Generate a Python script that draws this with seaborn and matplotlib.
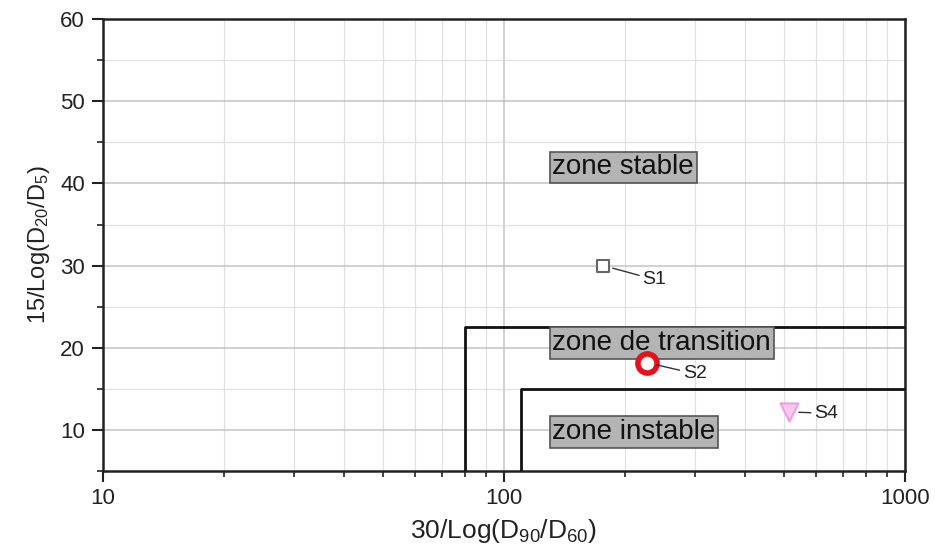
import matplotlib
matplotlib.use("Agg")
import matplotlib.pyplot as plt
import seaborn as sns
import pandas as pd
from matplotlib.ticker import LogLocator, MultipleLocator, NullFormatter, FixedLocator

# ---- data ----
samples = ["S1", "S2", "S4"]
x_vals = [177, 227, 514]          # 30/Log(D90/D60)
y_vals = [30.0, 18.2, 12.2]       # 15/Log(D20/D5)

transition_x = [80, 80, 1000]
transition_y = [5, 22.5, 22.5]
instable_x = [110, 110, 1000]
instable_y = [5, 15, 15]

zone_labels = ["zone stable", "zone de transition", "zone instable"]
zone_x = [132, 132, 132]
zone_y = [41.95, 20.6, 9.75]

y_ticks = [10, 20, 30, 40, 50, 60]
x_ticks = [10, 100, 1000]

sns.set_theme(style="white")
plt.rcParams["font.family"] = ["Liberation Sans", "DejaVu Sans"]
plt.rcParams["mathtext.default"] = "regular"

fig = plt.figure(figsize=(9.35, 5.51), dpi=100)
ax = fig.add_axes([0.110, 0.145, 0.858, 0.8205])

ax.set_xscale("log")
ax.set_xlim(10, 1000)
ax.set_ylim(5, 60)

# grid
ax.xaxis.set_major_locator(FixedLocator(x_ticks))
ax.xaxis.set_minor_locator(LogLocator(base=10, subs=range(2, 10)))
ax.xaxis.set_minor_formatter(NullFormatter())
ax.set_xticklabels([str(t) for t in x_ticks])
ax.yaxis.set_major_locator(FixedLocator(y_ticks))
ax.yaxis.set_minor_locator(MultipleLocator(5))
ax.grid(True, which="major", color="#c4c4c4", linewidth=1.1)
ax.grid(True, which="minor", color="#e0e0e0", linewidth=0.9)
ax.set_axisbelow(True)

# zone boundaries
bdf1 = pd.DataFrame({"x": transition_x, "y": transition_y})
bdf2 = pd.DataFrame({"x": instable_x, "y": instable_y})
sns.lineplot(data=bdf1, x="x", y="y", sort=False, estimator=None, color="#111111",
             linewidth=2.0, ax=ax, zorder=3)
sns.lineplot(data=bdf2, x="x", y="y", sort=False, estimator=None, color="#111111",
             linewidth=2.0, ax=ax, zorder=3)

# points
df = pd.DataFrame({"x": x_vals, "y": y_vals, "sample": samples})
styles = {
    "S1": dict(marker="s", s=70, facecolor="white", edgecolor="#666666", linewidth=1.5),
    "S2": dict(marker="o", s=190, facecolor="white", edgecolor="#e8101a", linewidth=4.0),
    "S4": dict(marker="v", s=170, facecolor="#f6c8f0", edgecolor="#ee9fe4", linewidth=1.5),
}
for name in samples:
    sub = df[df["sample"] == name]
    sns.scatterplot(data=sub, x="x", y="y", ax=ax, zorder=5, legend=False, **styles[name])

# leader labels
offsets = {"S1": (28, -10), "S2": (26, -8), "S4": (18, -1)}
for name, xv, yv in zip(samples, x_vals, y_vals):
    ax.annotate(name, xy=(xv, yv), xytext=offsets[name], textcoords="offset points",
                fontsize=14, color="#222222", ha="left", va="center",
                arrowprops=dict(arrowstyle="-", color="#333333", lw=1.0,
                                shrinkA=0, shrinkB=7), zorder=6)

# zone labels
for lab, zx, zy in zip(zone_labels, zone_x, zone_y):
    ax.text(zx, zy, lab, fontsize=20, ha="left", va="center", color="#111111",
            bbox=dict(boxstyle="square,pad=0.1", facecolor="#b4b4b4",
                      edgecolor="#555555", linewidth=1.2), zorder=4)

# axes styling
for sp in ax.spines.values():
    sp.set_visible(True)
    sp.set_color("#222222")
    sp.set_linewidth(1.8)
ax.tick_params(axis="both", which="major", direction="out", length=8, width=1.5,
               labelsize=16, colors="#222222", bottom=True, left=True)
ax.tick_params(axis="both", which="minor", direction="out", length=4, width=1.2,
               bottom=True, left=True, colors="#222222")
ax.tick_params(axis="x", which="major", pad=4)
ax.tick_params(axis="y", which="major", pad=5)

ax.set_xlabel("30/Log(D$_{90}$/D$_{60}$)", fontsize=19, color="#222222", labelpad=6)
ax.set_ylabel("15/Log(D$_{20}$/D$_{5}$)", fontsize=17, color="#222222", labelpad=6)

fig.savefig("out.png", dpi=100)
